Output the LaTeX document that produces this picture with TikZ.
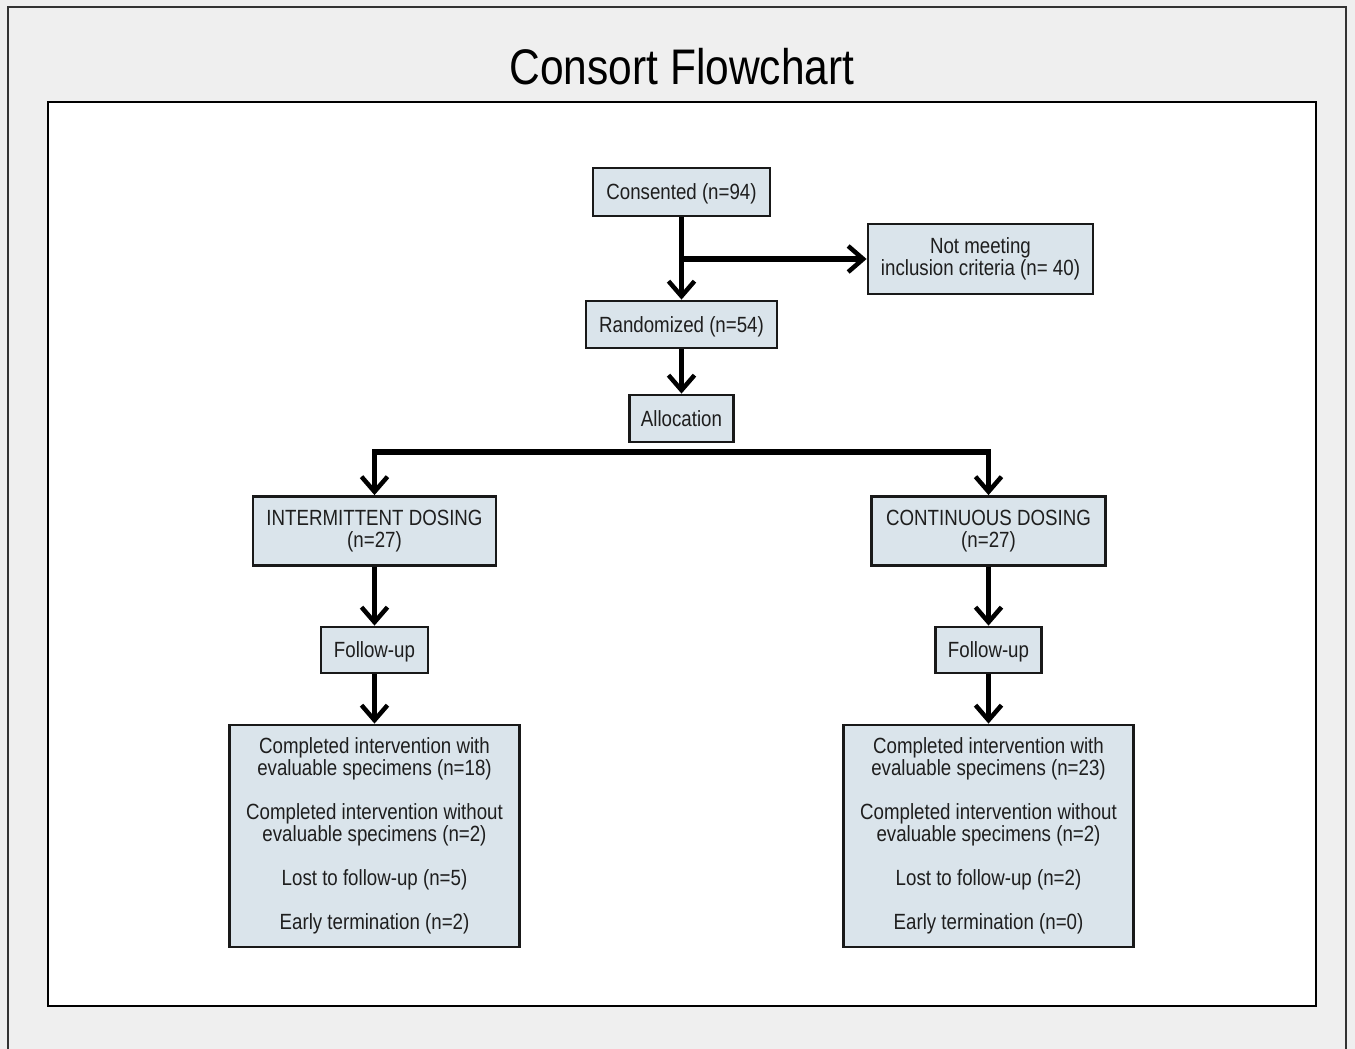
\documentclass[tikz,border=0pt]{standalone}
\usepackage{fontspec}
\setmainfont[FakeStretch=0.85]{Liberation Sans}
\usetikzlibrary{arrows.meta}
\definecolor{outerbg}{HTML}{EFEFEF}
\definecolor{boxfill}{HTML}{DAE4EB}
\definecolor{txt}{HTML}{1E1E1E}
\tikzset{
  fbox/.style={draw=black!90, line width=2.8pt, fill=boxfill, text=txt, font=\fontsize{22}{23}\selectfont, align=center, inner sep=0pt, anchor=center},
  onel/.style={text height=17pt, text depth=2pt},
  conn/.style={line width=5.5pt, -{Straight Barb[length=15pt,width=26pt,line width=4.5pt]}}
}
\begin{document}
\begin{tikzpicture}[x=1pt,y=-1pt]
\useasboundingbox (0,0) rectangle (1355,1049);
\fill[outerbg] (0,0) rectangle (1355,1049);
\draw[line width=2.2pt, black!80] (8,1060) -- (8,7) -- (1346,7) -- (1346,1060);
\draw[line width=2.6pt, fill=white] (48,102) rectangle (1316,1006);
\node[font=\fontsize{50}{54}\selectfont, text=black] (title) at (682,67) {Consort Flowchart};

\node[fbox, onel, minimum width=177pt, minimum height=48pt] (cons) at (681.5,192) {Consented (n=94)};
\node[fbox, minimum width=225pt, minimum height=70pt, font=\fontsize{22}{22}\selectfont] (excl) at (980.5,259) {Not meeting\\inclusion criteria (n= 40)};
\node[fbox, onel, minimum width=191pt, minimum height=47pt] (rand) at (681.5,324.5) {Randomized (n=54)};
\node[fbox, onel, minimum width=104pt, minimum height=47pt] (alloc) at (681.5,418.5) {Allocation};
\node[fbox, minimum width=243pt, minimum height=69pt, font=\fontsize{22}{22}\selectfont] (interm) at (374.5,531) {INTERMITTENT DOSING\\(n=27)};
\node[fbox, minimum width=234pt, minimum height=69pt, font=\fontsize{22}{22}\selectfont] (contin) at (988.5,531) {CONTINUOUS DOSING\\(n=27)};
\node[fbox, onel, minimum width=107pt, minimum height=46pt] (fu1) at (374.5,650) {Follow-up};
\node[fbox, onel, minimum width=106pt, minimum height=46pt] (fu2) at (988.5,650) {Follow-up};
\node[fbox, minimum width=290pt, minimum height=222pt, font=\fontsize{22}{22}\selectfont] (out1) at (374.5,836) {Completed intervention with\\evaluable specimens (n=18)\\[22pt]Completed intervention without\\evaluable specimens (n=2)\\[22pt]Lost to follow-up (n=5)\\[22pt]Early termination (n=2)};
\node[fbox, minimum width=290pt, minimum height=222pt, font=\fontsize{22}{22}\selectfont] (out2) at (988.5,836) {Completed intervention with\\evaluable specimens (n=23)\\[22pt]Completed intervention without\\evaluable specimens (n=2)\\[22pt]Lost to follow-up (n=2)\\[22pt]Early termination (n=0)};

\coordinate (br) at (cons.south |- excl.west);
\coordinate (split) at (681.5,452);
\draw[conn] (cons.south) -- (rand.north);
\draw[conn] (br) -- (excl.west);
\draw[conn] (rand.south) -- (alloc.north);
\draw[conn] (split) -| (interm.north);
\draw[conn] (split) -| (contin.north);
\draw[conn] (interm.south) -- (fu1.north);
\draw[conn] (contin.south) -- (fu2.north);
\draw[conn] (fu1.south) -- (out1.north);
\draw[conn] (fu2.south) -- (out2.north);
\end{tikzpicture}
\end{document}
